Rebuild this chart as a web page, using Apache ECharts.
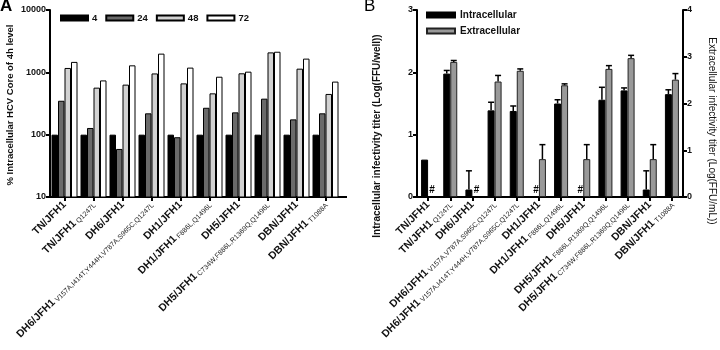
<!DOCTYPE html>
<html><head><meta charset="utf-8">
<script src="https://cdn.jsdelivr.net/npm/echarts@6/dist/echarts.min.js"></script>
<style>html,body{margin:0;padding:0;background:#fff}#c{width:720px;height:350px}</style>
</head><body><div id="c"></div>
<script>
// Panel A data
var catsA = ['TN/JFH1', 'TN/JFH1 Q1247L', 'DH6/JFH1', 'DH6/JFH1 V157A,I414T,Y444H,V787A,S965C,Q1247L', 'DH1/JFH1', 'DH1/JFH1 F886L,Q1496L', 'DH5/JFH1', 'DH5/JFH1 C734W,F886L,R1369Q,Q1496L', 'DBN/JFH1', 'DBN/JFH1 T1088A'];
var seriesNamesA = ['4', '24', '48', '72'];
var h4 = [100, 100, 100, 100, 100, 100, 100, 100, 100, 100];
var h24 = [350, 128, 59, 220, 91, 270, 228, 378, 176, 220];
var h48 = [1175, 568, 635, 960, 665, 460, 965, 2090, 1145, 450];
var h72 = [1470, 742, 1295, 1995, 1190, 850, 1025, 2140, 1660, 710];
var ticksA = [10, 100, 1000, 10000];

// Panel B data
var catsB = ['TN/JFH1', 'TN/JFH1 Q1247L', 'DH6/JFH1', 'DH6/JFH1 V157A,V787A,S965C,Q1247L', 'DH6/JFH1 V157A,I414T,Y444H,V787A,S965C,Q1247L', 'DH1/JFH1', 'DH1/JFH1 F886L,Q1496L', 'DH5/JFH1', 'DH5/JFH1 F886L,R1369Q,Q1496L', 'DH5/JFH1 C734W,F886L,R1369Q,Q1496L', 'DBN/JFH1', 'DBN/JFH1 T1088A'];
var intra = [0.6, 1.98, 0.12, 1.39, 1.38, null, 1.50, null, 1.56, 1.71, 0.12, 1.65];
var intraErr = [0, 0.05, 0.30, 0.13, 0.08, null, 0.06, null, 0.20, 0.04, 0.30, 0.07];
var extra = [null, 2.89, null, 2.47, 2.70, 0.81, 2.39, 0.81, 2.74, 2.97, 0.81, 2.51];
var extraErr = [null, 0.03, null, 0.13, 0.04, 0.31, 0.03, 0.31, 0.07, 0.06, 0.31, 0.13];

var FONT = 'Liberation Sans';
var chart = echarts.init(document.getElementById('c'), null, {renderer: 'canvas'});

function labelFmt(v) {
  var i = v.indexOf(' ');
  if (i < 0) return '{m|' + v + '}';
  return '{m|' + v.slice(0, i) + '}{s| ' + v.slice(i + 1) + '}';
}
var xLabel = {
  rotate: 45, interval: 0, margin: 6, formatter: labelFmt,
  rich: {
    m: {fontFamily: FONT, fontSize: 10.5, fontWeight: 'bold', color: '#111'},
    s: {fontFamily: FONT, fontSize: 7, color: '#222', verticalAlign: 'bottom', padding: [4, 0, 0, 0]}
  }
};
var axisLineS = {show: true, lineStyle: {color: '#000', width: 2}};
var axisTickS = {show: true, length: 4, lineStyle: {color: '#000', width: 2}};
var yLab = {fontFamily: FONT, fontSize: 9, fontWeight: 'bold', color: '#111', margin: 4};

function errItem(yAxisOff) {
  return function (params, api) {
    var v = api.value(1), e = api.value(2);
    if (v == null || isNaN(v) || !e) return null;
    var p0 = api.coord([api.value(0), v]);
    var p1 = api.coord([api.value(0), v + e]);
    var x = p0[0] + yAxisOff;
    return {type: 'group', children: [
      {type: 'line', shape: {x1: x, y1: p0[1], x2: x, y2: p1[1]}, style: {stroke: '#000', lineWidth: 1.5}},
      {type: 'line', shape: {x1: x - 3, y1: p1[1], x2: x + 3, y2: p1[1]}, style: {stroke: '#000', lineWidth: 1.5}}
    ]};
  };
}
function hashItem(off) {
  return function (params, api) {
    var p = api.coord([api.value(0), 0]);
    return {type: 'text', x: p[0] + off, y: p[1] - 2,
      style: {text: '#', font: 'bold 10px ' + FONT, fill: '#000', align: 'center', verticalAlign: 'bottom'}};
  };
}

var errIntra = [], errExtra = [], hashIntra = [], hashExtra = [];
for (var i = 0; i < catsB.length; i++) {
  if (intra[i] != null) errIntra.push([i, intra[i], intraErr[i]]); else hashIntra.push([i, 0]);
  if (extra[i] != null) errExtra.push([i, extra[i], extraErr[i]]); else hashExtra.push([i, 0]);
}

var colorsA = ['#000000', '#6a6a6a', '#d2d2d2', '#ffffff'];
var dataA = [h4, h24, h48, h72];
var seriesA = seriesNamesA.map(function (n, k) {
  return {name: n, type: 'bar', xAxisIndex: 0, yAxisIndex: 0, data: dataA[k],
    barWidth: 6.5, barGap: '0%',
    itemStyle: {color: colorsA[k], borderColor: '#000', borderWidth: 1}};
});

var option = {
  animation: false,
  textStyle: {fontFamily: FONT},
  grid: [
    {left: 50, top: 10, width: 290, height: 187},
    {left: 417, top: 10, width: 266, height: 187}
  ],
  legend: [
    {data: seriesNamesA, left: 55, top: 8, itemWidth: 27, itemHeight: 5, itemGap: 8, icon: 'rect',
      textStyle: {fontFamily: FONT, fontSize: 9.5, fontWeight: 'bold', color: '#111', padding: [0, 0, 0, -1]}},
    {data: ['Intracellular', 'Extracellular'], orient: 'vertical', left: 421, top: 5, itemWidth: 28, itemHeight: 5, itemGap: 6, icon: 'rect',
      textStyle: {fontFamily: FONT, fontSize: 10, fontWeight: 'bold', color: '#111'}}
  ],
  xAxis: [
    {type: 'category', gridIndex: 0, data: catsA, axisLine: axisLineS, axisTick: Object.assign({alignWithLabel: true}, axisTickS), axisLabel: xLabel},
    {type: 'category', gridIndex: 1, data: catsB, axisLine: axisLineS, axisTick: Object.assign({alignWithLabel: true}, axisTickS), axisLabel: xLabel}
  ],
  yAxis: [
    {type: 'log', gridIndex: 0, logBase: 10, min: ticksA[0], max: ticksA[ticksA.length - 1], axisLine: axisLineS, axisTick: axisTickS, splitLine: {show: false},
      axisLabel: Object.assign({formatter: function (v) { return String(Math.round(v)); }}, yLab)},
    {type: 'value', gridIndex: 1, min: 0, max: 3, interval: 1, axisLine: axisLineS, axisTick: axisTickS, splitLine: {show: false}, axisLabel: yLab},
    {type: 'value', gridIndex: 1, position: 'right', min: 0, max: 4, interval: 1, axisLine: axisLineS, axisTick: axisTickS, splitLine: {show: false}, axisLabel: yLab}
  ],
  series: seriesA.concat([
    {name: 'Intracellular', type: 'bar', xAxisIndex: 1, yAxisIndex: 1, data: intra, barWidth: 7, barGap: '0%',
      itemStyle: {color: '#000', borderColor: '#000', borderWidth: 1}},
    {name: 'Extracellular', type: 'bar', xAxisIndex: 1, yAxisIndex: 2, data: extra, barWidth: 7, barGap: '0%',
      itemStyle: {color: '#999999', borderColor: '#222', borderWidth: 1}},
    {type: 'custom', xAxisIndex: 1, yAxisIndex: 1, data: errIntra, renderItem: errItem(-3.5), z: 5},
    {type: 'custom', xAxisIndex: 1, yAxisIndex: 2, data: errExtra, renderItem: errItem(3.5), z: 5},
    {type: 'custom', xAxisIndex: 1, yAxisIndex: 1, data: hashIntra, renderItem: hashItem(-3), z: 5},
    {type: 'custom', xAxisIndex: 1, yAxisIndex: 2, data: hashExtra, renderItem: hashItem(4), z: 5}
  ]),
  graphic: [
    {type: 'text', left: 0, top: -2, style: {text: 'A', font: 'bold 17px ' + FONT, fill: '#000'}},
    {type: 'text', left: 364, top: -2, style: {text: 'B', font: '17px ' + FONT, fill: '#000'}},
    {type: 'line', shape: {x1: 340, y1: 197, x2: 347, y2: 197}, style: {stroke: '#000', lineWidth: 2}},
    {type: 'text', x: 10, y: 105, rotation: Math.PI / 2,
      style: {text: '% Intracellular HCV Core of 4h level', font: 'bold 9.5px ' + FONT, fill: '#111', align: 'center', verticalAlign: 'middle'}},
    {type: 'text', x: 377, y: 136, rotation: Math.PI / 2,
      style: {text: 'Intracellular infectivity titer (Log(FFU/well))', font: 'bold 10px ' + FONT, fill: '#111', align: 'center', verticalAlign: 'middle'}},
    {type: 'text', x: 712, y: 131, rotation: -Math.PI / 2,
      style: {text: 'Extracellular infectivity titer (Log(FFU/mL))', font: '10px ' + FONT, fill: '#111', align: 'center', verticalAlign: 'middle'}}
  ]
};
chart.setOption(option);
</script></body></html>
